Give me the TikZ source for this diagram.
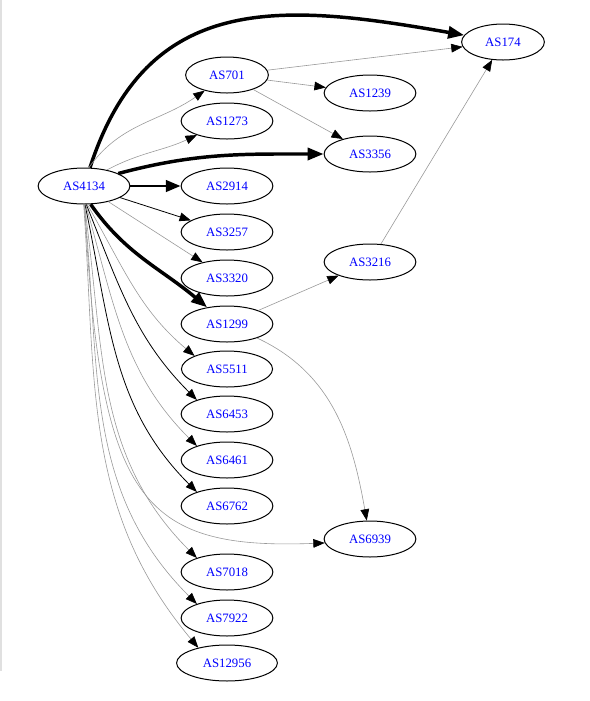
\documentclass[tikz,border=0pt]{standalone}
\usepackage{fontspec}
\setmainfont{Liberation Serif}
\usetikzlibrary{arrows.meta,shapes.geometric}

\tikzset{
  asnode/.style={ellipse, draw, line width=0.75pt, text=blue,
    font=\fontsize{9.6}{11}\selectfont, inner xsep=8.6pt, inner ysep=0pt,
    minimum height=27pt},
  thinedge/.style={draw=black!40, line width=0.45pt,
    -{Triangle[length=8.5pt,width=6.5pt,black]}},
  blackedge/.style={draw=black, line width=0.6pt,
    -{Triangle[length=8.5pt,width=6.5pt]}},
  thickedge/.style={draw=black, line width=2.2pt,
    -{Triangle[length=11pt,width=8.5pt]}},
  heavyedge/.style={draw=black, line width=2.6pt,
    -{Triangle[length=12pt,width=9pt]}}
}

\begin{document}
\begin{tikzpicture}[x=0.75pt, y=0.75pt]
  \useasboundingbox (0,0) rectangle (590,-701);
  %% page edge at the left
  \fill[black!12] (0,0) rectangle (1.6,-671);

  %% source
  \node[asnode] (as4134) at (84,-186) {AS4134};

  %% first column
  \node[asnode] (as701)   at (227,-75)  {AS701};
  \node[asnode] (as1273)  at (227,-121) {AS1273};
  \node[asnode] (as2914)  at (227,-186) {AS2914};
  \node[asnode] (as3257)  at (227,-232) {AS3257};
  \node[asnode] (as3320)  at (227,-278) {AS3320};
  \node[asnode] (as1299)  at (227,-324) {AS1299};
  \node[asnode] (as5511)  at (227,-369) {AS5511};
  \node[asnode] (as6453)  at (227,-414) {AS6453};
  \node[asnode] (as6461)  at (227,-460) {AS6461};
  \node[asnode] (as6762)  at (227,-506) {AS6762};
  \node[asnode] (as7018)  at (227,-572) {AS7018};
  \node[asnode] (as7922)  at (227,-618) {AS7922};
  \node[asnode] (as12956) at (227,-663) {AS12956};

  %% second column
  \node[asnode] (as1239) at (370,-93)  {AS1239};
  \node[asnode] (as3356) at (370,-154) {AS3356};
  \node[asnode] (as3216) at (370,-262) {AS3216};
  \node[asnode] (as6939) at (370,-539) {AS6939};

  %% third column
  \node[asnode] (as174) at (503,-42) {AS174};

  %% heavy links out of AS4134
  \draw[heavyedge] (as4134) to[out=72, in=170, looseness=1.2] (as174);
  \draw[heavyedge] (as4134.20) to[out=15, in=180] (as3356);
  \draw[heavyedge] (as4134.-70) to[out=-55, in=140] (as1299);
  \draw[thickedge] (as4134) -- (as2914);

  %% upper links out of AS4134
  \draw[thinedge] (as4134.75) to[out=55, in=-145] (as701);
  \draw[thinedge] (as4134.35) to[out=28, in=-155] (as1273);
  \draw[blackedge] (as4134) -- (as3257);
  \draw[thinedge] (as4134) -- (as3320);

  %% lower links out of AS4134
  \draw[thinedge]  (as4134.-80) to[out=-60, in=140] (as5511.158);
  \draw[blackedge] (as4134.-83) to[out=-68, in=135] (as6453.155);
  \draw[thinedge]  (as4134.-85) to[out=-74, in=135] (as6461.155);
  \draw[blackedge] (as4134.-87) to[out=-78, in=135] (as6762.155);
  \draw[thinedge]  (as4134.-88) .. controls (100,-500) and (140,-550) .. (as6939.185);
  \draw[thinedge]  (as4134.-89) to[out=-82, in=135] (as7018.155);
  \draw[thinedge]  (as4134.-90) to[out=-84, in=135] (as7922.155);
  \draw[thinedge]  (as4134.-91) to[out=-86, in=130] (as12956.152);

  %% links further on
  \draw[thinedge] (as701) -- (as174);
  \draw[thinedge] (as701) -- (as1239);
  \draw[thinedge] (as701) -- (as3356);
  \draw[thinedge] (as1299) -- (as3216);
  \draw[thinedge] (as1299.-25) to[out=-25, in=100] (as6939);
  \draw[thinedge] (as3216) -- (as174);
\end{tikzpicture}
\end{document}
